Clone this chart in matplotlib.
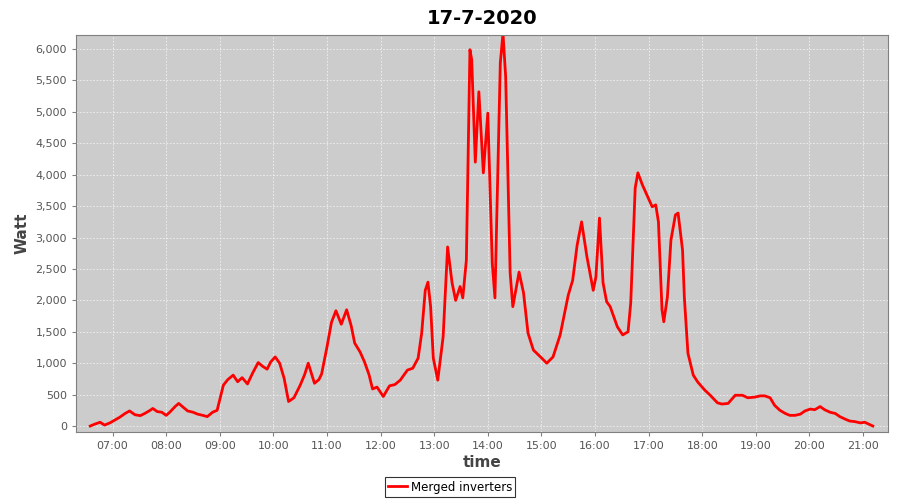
import matplotlib
matplotlib.use("Agg")
import matplotlib.pyplot as plt
from matplotlib.ticker import FuncFormatter, MultipleLocator

# readings of the day (time, watt)
times = [
    "06:35", "06:40", "06:46", "06:51", "06:57", "07:03", "07:08", "07:14", "07:19", "07:25",
    "07:31", "07:36", "07:42", "07:45", "07:50", "07:55", "08:00", "08:04", "08:10", "08:14",
    "08:19", "08:24", "08:30", "08:35", "08:41", "08:46", "08:52", "08:57", "09:00", "09:04",
    "09:09", "09:15", "09:20", "09:25", "09:31", "09:37", "09:43", "09:48", "09:53", "09:57",
    "10:02", "10:07", "10:12", "10:17", "10:23", "10:30", "10:35", "10:39", "10:46", "10:51",
    "10:54", "11:00", "11:05", "11:10", "11:16", "11:22", "11:27", "11:31", "11:37", "11:42",
    "11:47", "11:51", "11:56", "12:03", "12:10", "12:16", "12:22", "12:30", "12:36", "12:42",
    "12:46", "12:50", "12:53", "12:56", "12:59", "13:04", "13:10", "13:15", "13:20", "13:24",
    "13:29", "13:32", "13:36", "13:40", "13:42", "13:46", "13:50", "13:55", "14:00", "14:05",
    "14:08", "14:14", "14:17", "14:20", "14:25", "14:28", "14:35", "14:40", "14:45", "14:51",
    "14:59", "15:06", "15:13", "15:21", "15:30", "15:35", "15:40", "15:45", "15:51", "15:58",
    "16:01", "16:05", "16:09", "16:13", "16:17", "16:25", "16:31", "16:37", "16:40", "16:45",
    "16:48", "16:53", "16:58", "17:04", "17:08", "17:11", "17:15", "17:17", "17:21", "17:25",
    "17:30", "17:33", "17:38", "17:40", "17:44", "17:50", "17:55", "18:03", "18:09", "18:17",
    "18:22", "18:29", "18:37", "18:45", "18:51", "18:59", "19:05", "19:10", "19:16", "19:21",
    "19:27", "19:33", "19:38", "19:44", "19:50", "19:55", "20:01", "20:06", "20:12", "20:17",
    "20:23", "20:29", "20:34", "20:40", "20:45", "20:51", "20:57", "21:02", "21:08", "21:11",
]
watt = [
    0, 30, 60, 15, 50, 100, 140, 200, 240, 180,
    165, 200, 250, 280, 230, 220, 170, 220, 310, 360,
    300, 240, 220, 190, 170, 150, 220, 250, 420, 650,
    740, 810, 705, 770, 670, 850, 1010, 950, 905, 1020,
    1100, 1000, 760, 390, 450, 650, 820, 1000, 680, 740,
    830, 1260, 1650, 1835, 1620, 1850, 1600, 1320, 1180, 1020,
    820, 590, 620, 470, 640, 660, 730, 890, 920, 1080,
    1480, 2160, 2290, 1900, 1080, 730, 1420, 2850, 2280, 2000,
    2220, 2040, 2640, 5990, 5830, 4200, 5320, 4030, 4980, 2590,
    2040, 5780, 6250, 5560, 2440, 1900, 2450, 2120, 1480, 1210,
    1100, 1000, 1100, 1450, 2080, 2320, 2880, 3250, 2690, 2160,
    2370, 3310, 2280, 1980, 1900, 1580, 1450, 1500, 1960, 3790,
    4030, 3840, 3680, 3490, 3520, 3250, 1850, 1660, 2050, 2960,
    3360, 3390, 2800, 2050, 1160, 810, 700, 570, 490, 370,
    350, 360, 490, 490, 450, 460, 480, 480, 450, 330,
    250, 200, 170, 170, 190, 240, 270, 260, 310, 260,
    220, 200, 150, 110, 80, 70, 50, 60, 20, 0,
]
hour_ticks = list(range(7, 22))

hours = [int(t[:2]) + int(t[3:]) / 60 for t in times]

fig = plt.figure(figsize=(9, 5), dpi=100)
ax = fig.add_axes([0.0844, 0.136, 0.9023, 0.794])
ax.set_facecolor("#cccccc")

ax.plot(hours, watt, color="#ff0000", lw=2, solid_joinstyle="round",
        label="Merged inverters")

ax.set_xlim(6 + 19 / 60, 21 + 28 / 60)
ax.set_ylim(-95, 6224)
ax.set_xticks(hour_ticks)
ax.set_xticklabels([f"{h:02d}:00" for h in hour_ticks])
ax.yaxis.set_major_locator(MultipleLocator(500))
ax.yaxis.set_major_formatter(FuncFormatter(lambda v, p: f"{int(v):,}"))

ax.grid(True, color="#f2f2f2", linestyle=(0, (2, 2)), linewidth=0.6)
ax.set_axisbelow(True)
for s in ax.spines.values():
    s.set_color("#808080")
ax.tick_params(colors="#808080", labelcolor="#555555", labelsize=8, length=3)

ax.set_title("17-7-2020", fontsize=14, fontweight="bold", pad=8)
ax.set_xlabel("time", fontsize=11, fontweight="bold", color="#444444", labelpad=3)
ax.set_ylabel("Watt", fontsize=11, fontweight="bold", color="#444444", labelpad=4)

leg = fig.legend(loc="center", bbox_to_anchor=(0.5, 0.026), fontsize=8.5,
                 frameon=True, fancybox=False, edgecolor="black", handlelength=1.6,
                 handletextpad=0.3, borderpad=0.3)
leg.get_frame().set_linewidth(0.8)

fig.savefig("out.png", dpi=100)
